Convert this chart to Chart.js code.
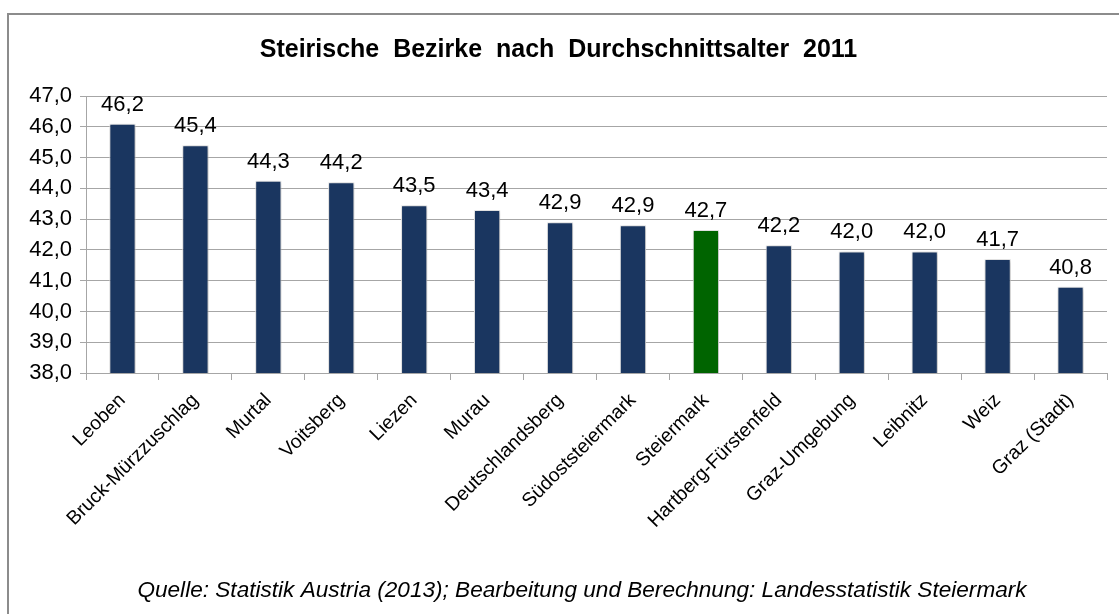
<!DOCTYPE html>
<html lang="de">
<head>
<meta charset="utf-8">
<title>Steirische Bezirke nach Durchschnittsalter 2011</title>
<script src="https://cdn.jsdelivr.net/npm/chart.js@4.4.1/dist/chart.umd.min.js"></script>
<style>
	html, body { margin: 0; padding: 0; background: #fff; }
	canvas { display: block; }
</style>
</head>
<body>
<canvas id="age-chart" width="1119" height="614"></canvas>
<script>
// Bezirke, sorted as in the source chart
var districts = ['Leoben', 'Bruck-Mürzzuschlag', 'Murtal', 'Voitsberg', 'Liezen', 'Murau',
	'Deutschlandsberg', 'Südoststeiermark', 'Steiermark', 'Hartberg-Fürstenfeld',
	'Graz-Umgebung', 'Leibnitz', 'Weiz', 'Graz (Stadt)'];
// bar heights
var averageAge = [46.1, 45.4, 44.25, 44.2, 43.45, 43.3, 42.9, 42.8, 42.65, 42.15, 41.95, 41.95, 41.7, 40.8];
// values printed above the bars
var printedAge = [46.2, 45.4, 44.3, 44.2, 43.5, 43.4, 42.9, 42.9, 42.7, 42.2, 42.0, 42.0, 41.7, 40.8];
var yTicks = [38, 39, 40, 41, 42, 43, 44, 45, 46, 47];

var chartTitle = 'Steirische  Bezirke  nach  Durchschnittsalter  2011';
var sourceNote = 'Quelle: Statistik Austria (2013); Bearbeitung und Berechnung: Landesstatistik Steiermark';

var navy = '#1a3660';
var green = '#006400';
var gridGrey = '#a6a6a6';
var fontName = '"Liberation Sans", Arial, sans-serif';

function deNumber(v) {
	return Number(v).toFixed(1).replace('.', ',');
}

var barColors = districts.map(function (d) {
	return d === 'Steiermark' ? green : navy;
});

// frame round the chart, like the Excel chart box
var framePlugin = {
	id: 'frame',
	beforeDraw: function (chart) {
		var ctx = chart.ctx;
		ctx.save();
		ctx.fillStyle = '#fff';
		ctx.fillRect(0, 0, chart.width, chart.height);
		ctx.strokeStyle = '#8c8c8c';
		ctx.lineWidth = 2;
		ctx.beginPath();
		ctx.moveTo(8, chart.height);
		ctx.lineTo(8, 14);
		ctx.lineTo(chart.width, 14);
		ctx.stroke();
		ctx.restore();
	}
};

// soft shadow behind the bars
var shadowPlugin = {
	id: 'barShadow',
	beforeDatasetsDraw: function (chart) {
		var ctx = chart.ctx;
		ctx.save();
		ctx.shadowColor = 'rgba(0,0,0,0.28)';
		ctx.shadowBlur = 4;
		ctx.shadowOffsetX = 1;
		ctx.shadowOffsetY = 1;
	},
	afterDatasetsDraw: function (chart) {
		chart.ctx.restore();
	}
};

// printed values above each bar
var valueLabels = {
	id: 'valueLabels',
	afterDatasetsDraw: function (chart) {
		var ctx = chart.ctx;
		var meta = chart.getDatasetMeta(0);
		ctx.save();
		ctx.font = '22px ' + fontName;
		ctx.fillStyle = '#000';
		ctx.textAlign = 'center';
		ctx.textBaseline = 'middle';
		meta.data.forEach(function (bar, i) {
			ctx.fillText(deNumber(printedAge[i]), bar.x, bar.y - 19);
		});
		ctx.restore();
	}
};

// source line, sits a bit right of centre in the original
var sourcePlugin = {
	id: 'sourceNote',
	afterDraw: function (chart) {
		var ctx = chart.ctx;
		ctx.save();
		ctx.font = 'italic 22.6px ' + fontName;
		ctx.fillStyle = '#000';
		ctx.textAlign = 'center';
		ctx.textBaseline = 'middle';
		ctx.fillText(sourceNote, 582, 591);
		ctx.restore();
	}
};

new Chart(document.getElementById('age-chart'), {
	type: 'bar',
	data: {
		labels: districts,
		datasets: [{
			label: 'Durchschnittsalter',
			data: averageAge,
			backgroundColor: barColors,
			borderColor: '#f0f0f0',
			borderWidth: 1,
			categoryPercentage: 1,
			barPercentage: 0.36
		}]
	},
	options: {
		responsive: false,
		animation: false,
		layout: { padding: { left: 10, right: 12, top: 0, bottom: 45 } },
		plugins: {
			legend: { display: false },
			tooltip: { enabled: false },
			title: {
				display: true,
				text: chartTitle,
				color: '#000',
				font: { family: fontName, size: 25, weight: 'bold' },
				padding: { top: 35, bottom: 31 }
			}
		},
		scales: {
			x: {
				grid: { display: true, drawOnChartArea: false, drawTicks: true, tickLength: 7, color: gridGrey, offset: true },
				border: { color: gridGrey, width: 1 },
				ticks: {
					color: '#000',
					font: { family: fontName, size: 19.5 },
					minRotation: 45,
					maxRotation: 45,
					autoSkip: false,
					padding: 9
				},
				afterFit: function (scale) {
					scale.height = 196;
				}
			},
			y: {
				min: 38,
				max: 47,
				afterBuildTicks: function (scale) {
					scale.ticks = yTicks.map(function (v) { return { value: v }; });
				},
				grid: { color: gridGrey, tickLength: 6 },
				border: { color: gridGrey, width: 1 },
				ticks: {
					color: '#000',
					font: { family: fontName, size: 22 },
					padding: 8,
					callback: function (value) { return deNumber(value); }
				},
				afterFit: function (scale) {
					scale.width = 76;
				}
			}
		}
	},
	plugins: [framePlugin, shadowPlugin, valueLabels, sourcePlugin]
});
</script>
</body>
</html>
